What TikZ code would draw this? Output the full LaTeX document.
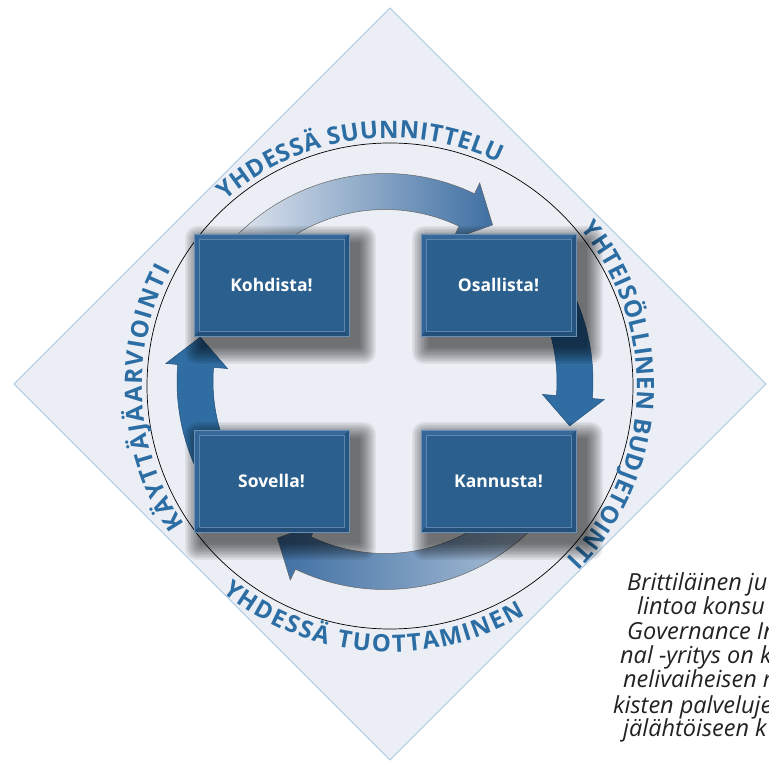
\documentclass[tikz,border=0pt]{standalone}
\usepackage{fontspec}
\setmainfont{Open Sans}
\usetikzlibrary{calc,decorations.text}
\definecolor{diafill}{HTML}{EBEFF5}
\definecolor{diaedge}{HTML}{A9C6DF}
\definecolor{boxblue}{HTML}{2B5F8D}
\definecolor{boxlight}{HTML}{36699A}
\definecolor{boxdark}{HTML}{234F78}
\definecolor{boxline}{HTML}{6A90B6}
\definecolor{textblue}{HTML}{2C6DA3}
\definecolor{arrowblue}{HTML}{2F6DA2}
\definecolor{arrowedge}{HTML}{24507C}
\definecolor{arrowpale}{HTML}{E4E9F1}
\definecolor{arrowmid}{HTML}{3F70A3}
\definecolor{bodytext}{HTML}{222222}
\newcommand\arcfont{\fontsize{24}{28}\selectfont\bfseries}
\newcommand\boxfont{\fontsize{17.5}{20}\selectfont\bfseries}
\newcommand\bodyfont{\fontsize{23.5}{26}\selectfont\itshape}
\newcommand\ringarrow[4]{%
  \path[#1] ($(A)+(#2:208)$) arc[start angle=#2, end angle=#3, radius=208]
    -- ($(A)+(#3:220)$) -- ($(A)+(#4:190)$) -- ($(A)+(#3:158)$)
    -- ($(A)+(#3:172)$) arc[start angle=#3, end angle=#2, radius=172] -- cycle;}
\newcommand\bevelbox[6]{%
  \foreach \i in {1,...,12}{%
    \fill[black, opacity=0.06, rounded corners=\i pt]
      ({#2+9-1.5*\i},{#3-10-1.5*\i}) rectangle ({#4+9+1.5*\i},{#5-10+1.5*\i});
  }%
  \fill[boxblue] (#2,#3) rectangle (#4,#5);
  \fill[boxlight] (#2,#5) -- (#4,#5) -- ({#4-5},{#5-5}) -- ({#2+5},{#5-5}) -- cycle;
  \fill[boxlight!70!boxblue] (#2,#3) -- (#2,#5) -- ({#2+5},{#5-5}) -- ({#2+5},{#3+5}) -- cycle;
  \fill[boxdark] (#2,#3) -- (#4,#3) -- ({#4-5},{#3+5}) -- ({#2+5},{#3+5}) -- cycle;
  \fill[boxdark!60!boxblue] (#4,#3) -- (#4,#5) -- ({#4-5},{#5-5}) -- ({#4-5},{#3+5}) -- cycle;
  \draw[boxline!80!boxblue, line width=0.5pt] ({#2+5},{#3+5}) rectangle ({#4-5},{#5-5});
  \draw[boxline, line width=0.6pt] (#2,#3) rectangle (#4,#5);
  \node[boxlabel] (#1) at ({(#2+#4)/2},{(#3+#5)/2}) {#6};}
\begin{document}
\begin{tikzpicture}[x=1pt,y=1pt,
  boxlabel/.style={text=white, font=\boxfont, inner sep=0pt},
  arctext/.style={decorate, decoration={text along path, text={#1},
      text align=fit to path, text color=textblue}},
  bodyline/.style={anchor=base west, inner sep=0pt, text=bodytext, font=\bodyfont},
  arrowsolid/.style={fill=arrowblue, draw=arrowedge, line width=0.5pt},
]
\useasboundingbox (0,0) rectangle (769,761);
\clip (0,0) rectangle (769,761);
\coordinate (O) at (390,375);
\coordinate (A) at (385,379.5);
% diamond
\path[fill=diafill, draw=diaedge, line width=0.8pt]
  (390,753) -- (766,377) -- (390,1) -- (14,377) -- cycle;
% circle
\draw[line width=0.7pt] (O) circle[radius=243];
% texts along the circle
\path[arctext={|\arcfont|YHDESSÄ SUUNNITTELU}]
  ($(O)+(131.5:248)$) arc[start angle=131.5, end angle=64, radius=248];
\path[arctext={|\arcfont|YHTEISÖLLINEN BUDJETOINTI}]
  ($(O)+(39.5:247)$) arc[start angle=39.5, end angle=-44.5, radius=247];
\path[arctext={|\arcfont|KÄYTTÄJÄARVIOINTI}]
  ($(O)+(214:248)$) arc[start angle=214, end angle=152, radius=248];
\path[arctext={|\arcfont|YHDESSÄ TUOTTAMINEN}]
  ($(O)+(231:266)$) arc[start angle=231, end angle=300.5, radius=266];
% arrows
\ringarrow{shade, left color=arrowpale, right color=arrowmid, draw=gray!80!black, line width=0.5pt}{140}{64.5}{55.5}
\ringarrow{arrowsolid}{30}{-4.7}{-13.5}
\ringarrow{shade, left color=arrowmid, right color=arrowpale!70!arrowmid, draw=gray!80!black, line width=0.5pt}{320}{244.5}{235.5}
\ringarrow{arrowsolid}{210}{175.3}{166.5}
% boxes
\bevelbox{kohdista}{194}{425}{349}{527}{Kohdista!}
\bevelbox{osallista}{421}{425}{576}{527}{Osallista!}
\bevelbox{sovella}{194}{229}{349}{331}{Sovella!}
\bevelbox{kannusta}{421}{229}{576}{331}{Kannusta!}
% body text
\node[bodyline] (t1) at (627,170) {Brittiläinen ju};
\node[bodyline] (t2) at (637,146) {lintoa konsu};
\node[bodyline] (t3) at (627,121) {Governance In};
\node[bodyline] (t4) at (620,97) {nal -yritys on k};
\node[bodyline] (t5) at (623,73) {nelivaiheisen m};
\node[bodyline] (t6) at (613,48) {kisten palveluje};
\node[bodyline] (t7) at (623,24) {jälähtöiseen k};
\end{tikzpicture}
\end{document}
